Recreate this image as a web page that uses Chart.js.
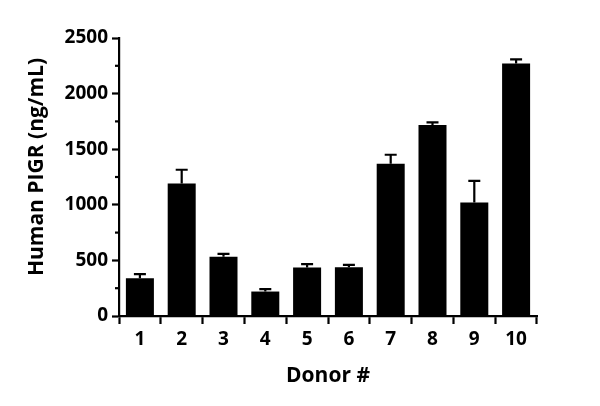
<!DOCTYPE html>
<html>
<head>
<meta charset="utf-8">
<script src="https://cdn.jsdelivr.net/npm/chart.js@4"></script>
<style>
  html, body { margin: 0; padding: 0; background: #fff; }
  #wrap { width: 600px; height: 406px; }
</style>
</head>
<body>
<div id="wrap"><canvas id="barChart"></canvas></div>
<script>
// data
const donors = ['1', '2', '3', '4', '5', '6', '7', '8', '9', '10'];
const meanPigr = [340, 1191, 532, 220, 436, 439, 1369, 1718, 1020, 2271];
const errPigr = [36, 124, 27, 21, 30, 21, 81, 24, 195, 36];
const yTicks = [0, 500, 1000, 1500, 2000, 2500];
const yTitle = 'Human PIGR (ng/mL)';

const fontFam = '"Open Sans", "DejaVu Sans", sans-serif';

// error bars (upper half only), minor y ticks, y title sitting a bit above centre
const extras = {
    id: 'extras',
    afterDatasetsDraw(chart) {
        const c = chart.ctx;
        const y = chart.scales.y;
        const meta = chart.getDatasetMeta(0);
        c.save();
        c.strokeStyle = '#000';
        c.lineWidth = 2.2;
        meta.data.forEach((bar, i) => {
            const top = y.getPixelForValue(meanPigr[i] + errPigr[i]);
            c.beginPath();
            c.moveTo(bar.x, bar.y);
            c.lineTo(bar.x, top);
            c.moveTo(bar.x - 6, top);
            c.lineTo(bar.x + 6, top);
            c.stroke();
        });
        const left = chart.chartArea.left;
        for (let k = 0; k < yTicks.length - 1; k++) {
            const py = y.getPixelForValue((yTicks[k] + yTicks[k + 1]) / 2);
            c.beginPath();
            c.moveTo(left - 4, py);
            c.lineTo(left, py);
            c.stroke();
        }
        c.translate(37, (y.top + y.bottom) / 2 - 10);
        c.rotate(-Math.PI / 2);
        c.fillStyle = '#000';
        c.font = 'bold 21px ' + fontFam;
        c.textAlign = 'center';
        c.textBaseline = 'middle';
        c.fillText(yTitle, 0, 0);
        c.restore();
    }
};

new Chart(document.getElementById('barChart'), {
    type: 'bar',
    data: {
        labels: donors,
        datasets: [{
            data: meanPigr,
            backgroundColor: '#000',
            borderWidth: 0,
            categoryPercentage: 0.67,
            barPercentage: 1
        }]
    },
    options: {
        responsive: true,
        maintainAspectRatio: false,
        animation: false,
        layout: { padding: { top: 38, right: 63, left: 0, bottom: 0 } },
        plugins: {
            legend: { display: false },
            tooltip: { enabled: false }
        },
        scales: {
            x: {
                grid: { drawOnChartArea: false, tickLength: 8, tickWidth: 2.2, tickColor: '#000' },
                border: { color: '#000', width: 2.2 },
                ticks: { color: '#000', font: { family: fontFam, size: 19, weight: 'bold' }, padding: 4 },
                title: { display: true, text: 'Donor #', color: '#000', font: { family: fontFam, size: 21, weight: 'bold' }, padding: { top: 0, bottom: 17 } },
                afterFit(scale) { scale.height = 90; }
            },
            y: {
                min: 0,
                max: 2500,
                afterBuildTicks(scale) { scale.ticks = yTicks.map(v => ({ value: v })); },
                grid: { drawOnChartArea: false, tickLength: 7, tickWidth: 2.2, tickColor: '#000' },
                border: { color: '#000', width: 2.2 },
                ticks: {
                    color: '#000',
                    font: { family: fontFam, size: 19, weight: 'bold' },
                    padding: 4,
                    callback: v => String(v)
                },
                afterFit(scale) { scale.width = 119; }
            }
        }
    },
    plugins: [extras]
});
</script>
</body>
</html>
